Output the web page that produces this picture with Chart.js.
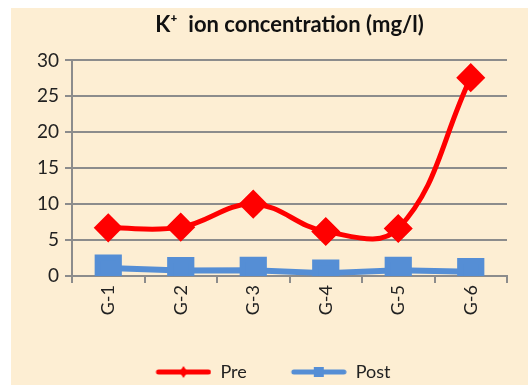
<!DOCTYPE html>
<html>
<head>
<meta charset="utf-8">
<script src="https://cdn.jsdelivr.net/npm/chart.js@4"></script>
<style>
  html, body { margin: 0; padding: 0; background: #fff; }
  #wrap { position: absolute; left: 11px; top: 8px; width: 517px; height: 377px; background: #fdeed3; }
</style>
</head>
<body>
<div id="wrap"><canvas id="myChart" width="517" height="377"></canvas></div>
<script>
const categories = ["G-1", "G-2", "G-3", "G-4", "G-5", "G-6"];
const preValues = [6.7, 6.8, 10.0, 6.2, 6.6, 27.6];
const postValues = [1.1, 0.75, 0.8, 0.4, 0.8, 0.6];
const yTicks = [0, 5, 10, 15, 20, 25, 30];

const fontName = "Lato, 'Open Sans', sans-serif";

// little legend pictures: line with the marker on it (blank space on the left for the gap)
function legendIcon(color, shape) {
  let c = document.createElement("canvas");
  c.width = 78; c.height = 14;
  let g = c.getContext("2d");
  g.strokeStyle = color;
  g.lineWidth = 5;
  g.lineCap = "round";
  g.beginPath();
  g.moveTo(25, 7); g.lineTo(75, 7);
  g.stroke();
  g.fillStyle = color;
  if (shape == "diamond") {
    g.beginPath();
    g.moveTo(50, 1); g.lineTo(54, 7); g.lineTo(50, 13); g.lineTo(46, 7);
    g.closePath(); g.fill();
  } else {
    g.fillRect(45, 2, 10, 10);
  }
  return c;
}

const ctx = document.getElementById("myChart").getContext("2d");
const myChart = new Chart(ctx, {
  type: "line",
  data: {
    labels: categories,
    datasets: [
      {
        label: "Pre",
        data: preValues,
        borderColor: "#ff0000",
        backgroundColor: "#ff0000",
        borderWidth: 5,
        tension: 0.4,
        pointStyle: "rectRot",
        pointRadius: 11,
        pointHoverRadius: 11,
        legendIcon: legendIcon("#ff0000", "diamond")
      },
      {
        label: "Post",
        data: postValues,
        borderColor: "#558ed5",
        backgroundColor: "#558ed5",
        borderWidth: 6,
        tension: 0,
        pointStyle: "rect",
        pointRadius: 15,
        pointHoverRadius: 15,
        legendIcon: legendIcon("#558ed5", "square")
      }
    ]
  },
  options: {
    responsive: false,
    animation: false,
    layout: { padding: { left: 0, right: 15, top: 0, bottom: -6 } },
    plugins: {
      title: {
        display: true,
        fullSize: false,
        text: "K\u207A  ion concentration (mg/l)",
        color: "#111",
        font: { family: fontName, size: 22, weight: "bold" },
        padding: { top: 4, bottom: 22 }
      },
      legend: {
        position: "bottom",
        labels: {
          usePointStyle: true,
          pointStyleWidth: 78,
          boxHeight: 14,
          padding: 22,
          color: "#222",
          font: { family: fontName, size: 18 },
          generateLabels(chart) {
            return chart.data.datasets.map((ds, i) => ({
              text: ds.label,
              pointStyle: ds.legendIcon,
              fillStyle: ds.borderColor,
              strokeStyle: ds.borderColor,
              lineWidth: 0,
              fontColor: "#222",
              datasetIndex: i,
              hidden: false
            }));
          }
        }
      },
      tooltip: { enabled: false }
    },
    scales: {
      x: {
        offset: true,
        grid: {
          offset: true,
          drawOnChartArea: false,
          drawTicks: true,
          tickLength: 7,
          color: "#8c8c8c",
          lineWidth: 2
        },
        border: { color: "#8c8c8c", width: 2 },
        ticks: {
          minRotation: 90,
          maxRotation: 90,
          color: "#222",
          padding: 2,
          font: { family: fontName, size: 18 }
        },
        afterFit(scale) { scale.height = 65; }
      },
      y: {
        min: 0,
        max: 30,
        afterBuildTicks(scale) { scale.ticks = yTicks.map(v => ({ value: v })); },
        grid: { color: "#8c8c8c", lineWidth: 2, tickLength: 7 },
        border: { color: "#8c8c8c", width: 2 },
        ticks: {
          color: "#222",
          padding: 6,
          font: { family: fontName, size: 19 }
        },
        afterFit(scale) { scale.width = 61; }
      }
    }
  }
});
</script>
</body>
</html>
